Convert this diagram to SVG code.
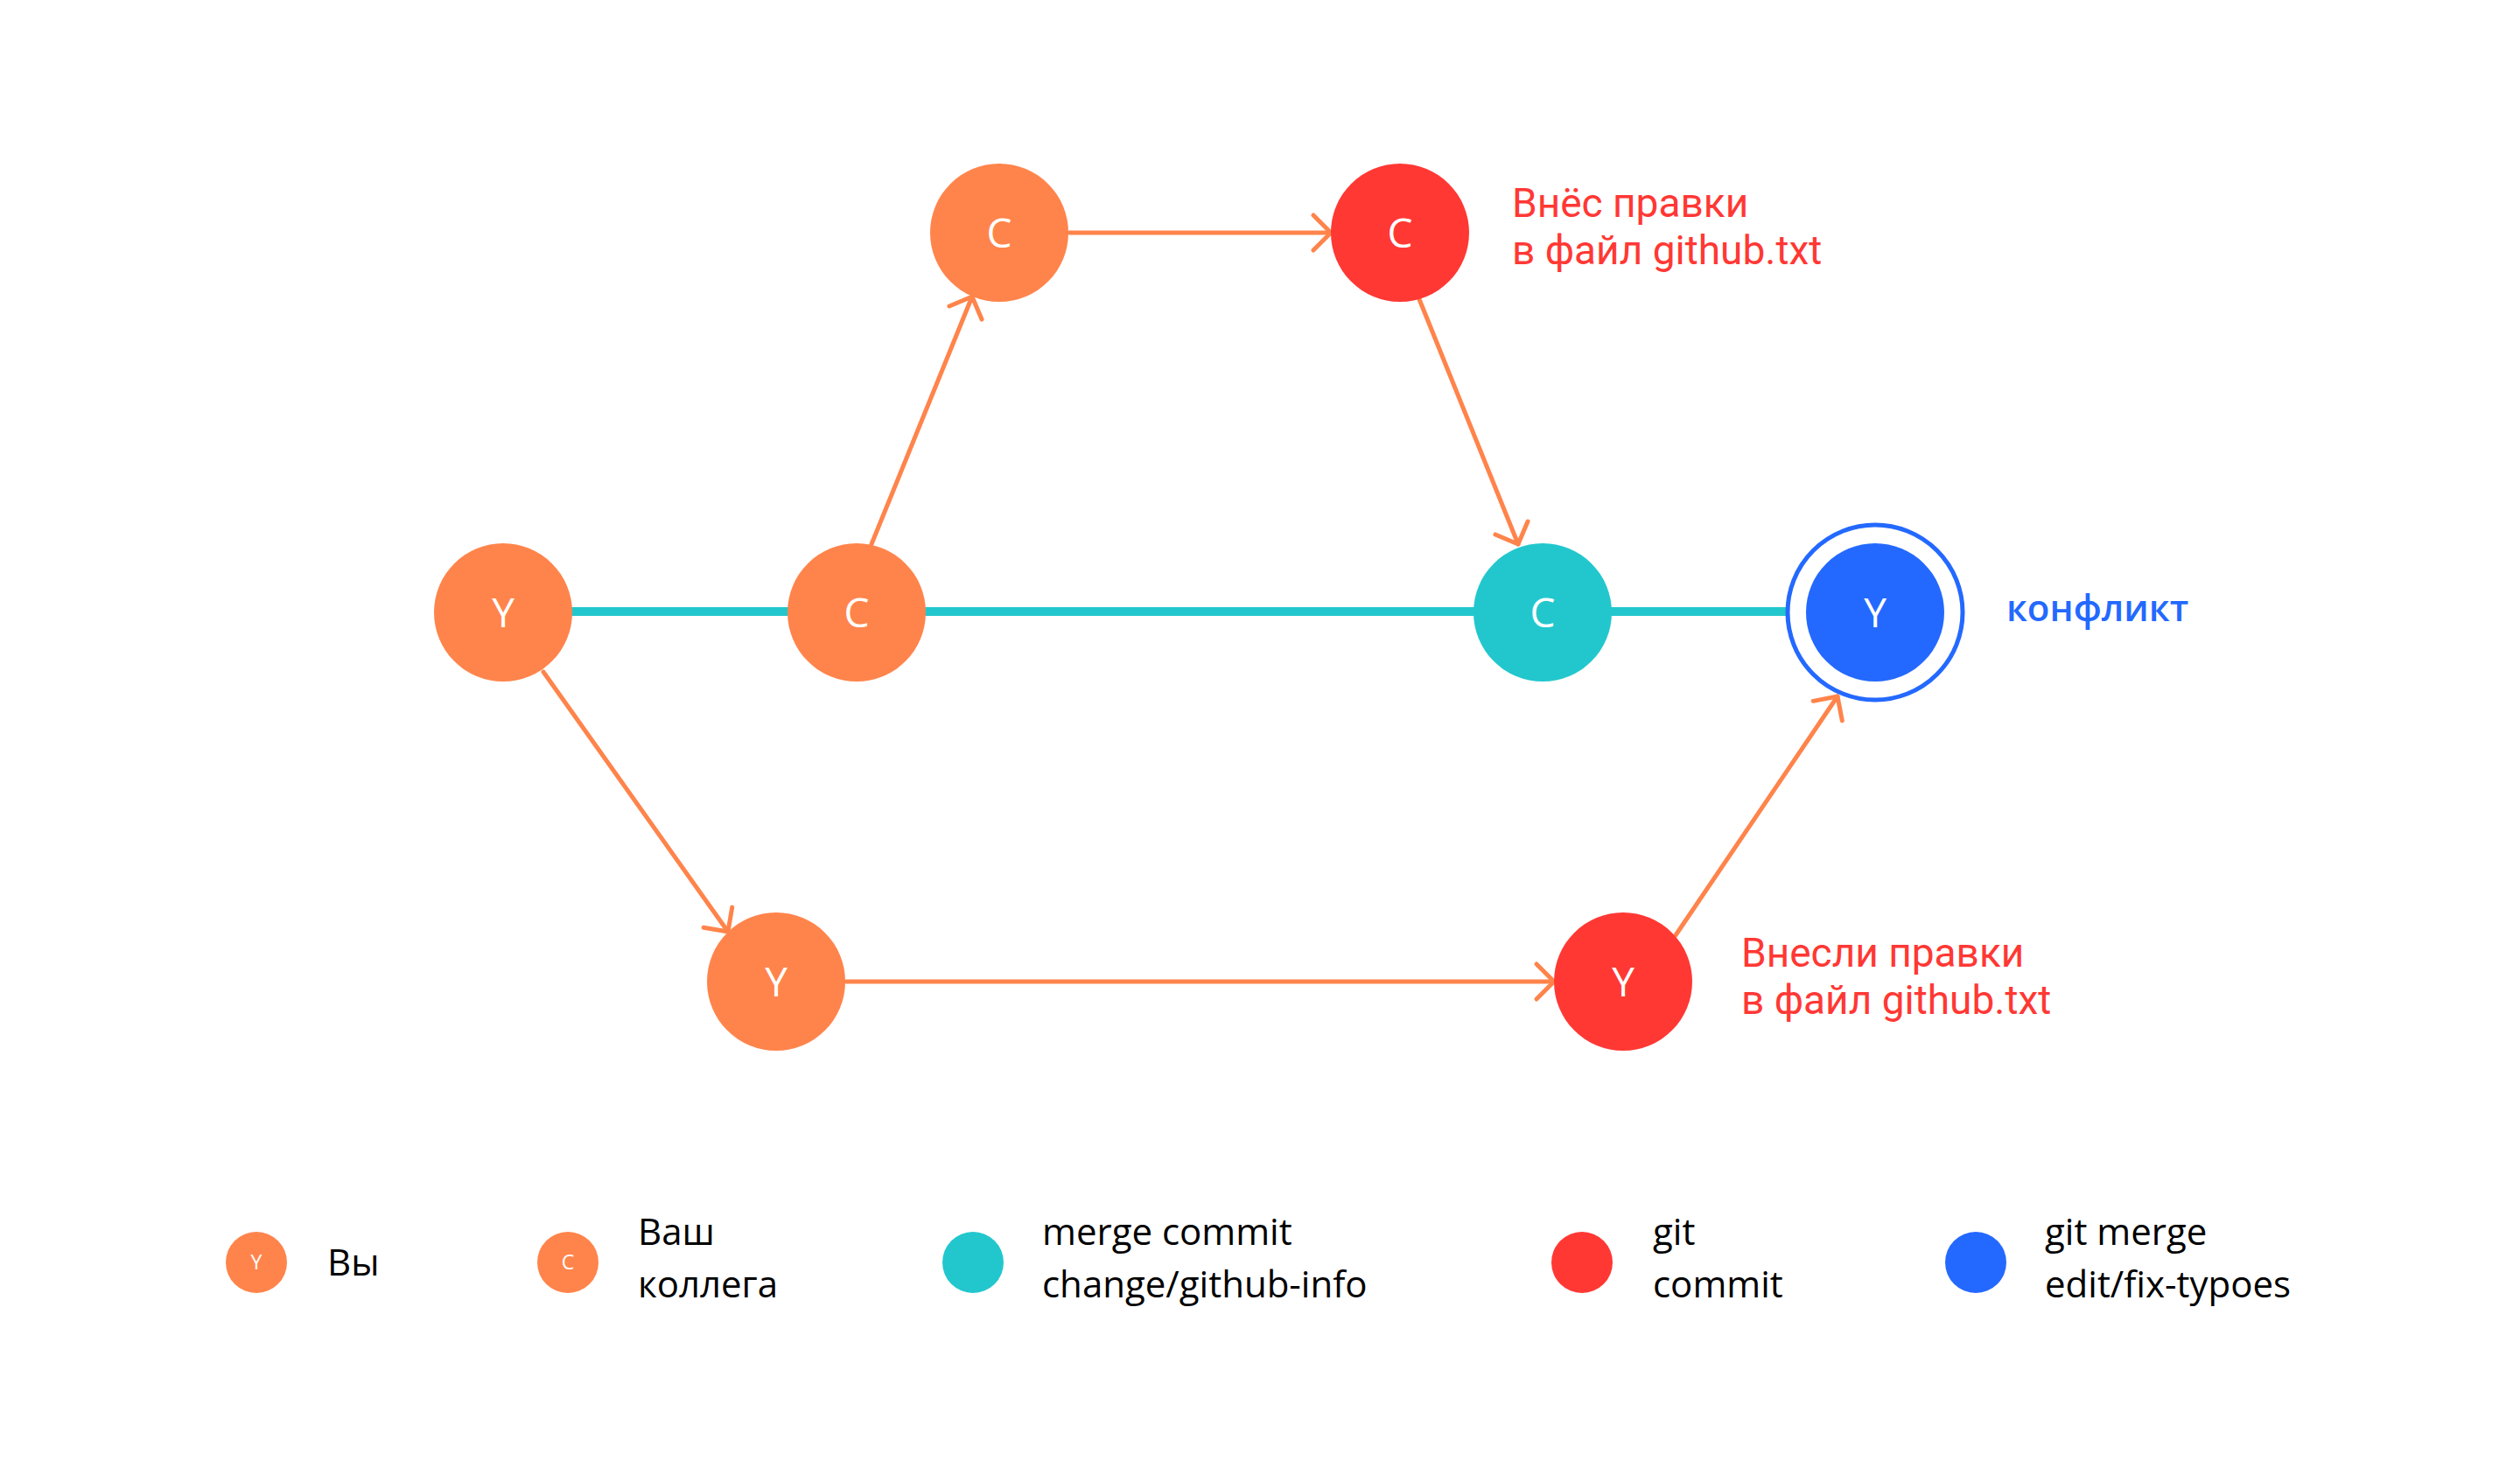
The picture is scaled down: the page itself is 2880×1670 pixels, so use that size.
<svg xmlns="http://www.w3.org/2000/svg" width="2880" height="1670" viewBox="0 0 2880 1670">
<defs>
<style>
.o{fill:#FF844B}.r{fill:#FF3834}.t{fill:#22C7CD}.b{fill:#2469FF}
.lt{font-family:"Open Sans","Noto Sans",sans-serif;font-size:46px;fill:#fff;text-anchor:middle}
.ls{font-family:"Open Sans","Noto Sans",sans-serif;font-size:23px;fill:#fff;text-anchor:middle}
.ar{stroke:#FF844B;stroke-width:5;fill:none;stroke-linecap:round;marker-end:url(#ah)}
.note{font-family:Roboto,"Noto Sans",sans-serif;font-size:46px;fill:#FF3834}
.leg{font-family:"Open Sans","Noto Sans",sans-serif;font-size:42px;fill:#000}
</style>
<marker id="ah" viewBox="-26 -26 32 52" refX="0" refY="0" markerWidth="32" markerHeight="52" orient="auto" markerUnits="userSpaceOnUse">
<path d="M-20,-20 L0,0 L-20,20" fill="none" stroke="#FF844B" stroke-width="5" stroke-linecap="round" stroke-linejoin="round"/>
</marker>
</defs>
<rect width="2880" height="1670" fill="#fff"/>
<g id="connectors">
<line x1="575" y1="699" x2="2045" y2="699" stroke="#22C7CD" stroke-width="10"/>
<line class="ar" x1="996" y1="622" x2="1111" y2="339"/>
<line class="ar" x1="1222" y1="266" x2="1521" y2="266"/>
<line class="ar" x1="1622" y1="342" x2="1735" y2="622"/>
<line class="ar" x1="621" y1="768" x2="832" y2="1065"/>
<line class="ar" x1="967" y1="1122" x2="1776" y2="1122"/>
<line class="ar" x1="1915" y1="1069" x2="2100" y2="796"/>
</g>
<g id="n-y1"><circle class="o" cx="575" cy="700" r="79"/><text class="lt" x="575" y="717">Y</text></g>
<g id="n-c1"><circle class="o" cx="979" cy="700" r="79"/><text class="lt" x="979" y="717">C</text></g>
<g id="n-c2"><circle class="o" cx="1142" cy="266" r="79"/><text class="lt" x="1142" y="283">C</text></g>
<g id="n-c3"><circle class="r" cx="1600" cy="266" r="79"/><text class="lt" x="1600" y="283">C</text></g>
<g id="n-c4"><circle class="t" cx="1763" cy="700" r="79"/><text class="lt" x="1763" y="717">C</text></g>
<g id="n-y4"><circle cx="2143" cy="700" r="100" fill="#fff" stroke="#2469FF" stroke-width="5"/><circle class="b" cx="2143" cy="700" r="79"/><text class="lt" x="2143" y="717">Y</text></g>
<g id="n-y2"><circle class="o" cx="887" cy="1122" r="79"/><text class="lt" x="887" y="1139">Y</text></g>
<g id="n-y3"><circle class="r" cx="1855" cy="1122" r="79"/><text class="lt" x="1855" y="1139">Y</text></g>
<g id="labels">
<text class="note" x="1728" y="248">Внёс правки</text>
<text class="note" x="1728" y="302">в файл github.txt</text>
<text class="note" x="1990" y="1105">Внесли правки</text>
<text class="note" x="1990" y="1159">в файл github.txt</text>
<text x="2293" y="710" font-family="'Open Sans','Noto Sans',sans-serif" font-size="42" font-weight="600" fill="#2469FF">конфликт</text>
</g>
<g id="legend">
<g id="lg1"><circle class="o" cx="293" cy="1443" r="35"/><text class="ls" x="293" y="1451">Y</text><text class="leg" x="374" y="1458">Вы</text></g>
<g id="lg2"><circle class="o" cx="649" cy="1443" r="35"/><text class="ls" x="649" y="1451">C</text><text class="leg" x="729" y="1423">Ваш</text><text class="leg" x="729" y="1483">коллега</text></g>
<g id="lg3"><circle class="t" cx="1112" cy="1443" r="35"/><text class="leg" x="1191" y="1423">merge commit</text><text class="leg" x="1191" y="1483">change/github-info</text></g>
<g id="lg4"><circle class="r" cx="1808" cy="1443" r="35"/><text class="leg" x="1889" y="1423">git</text><text class="leg" x="1889" y="1483">commit</text></g>
<g id="lg5"><circle class="b" cx="2258" cy="1443" r="35"/><text class="leg" x="2337" y="1423">git merge</text><text class="leg" x="2337" y="1483">edit/fix-typoes</text></g>
</g>
</svg>
